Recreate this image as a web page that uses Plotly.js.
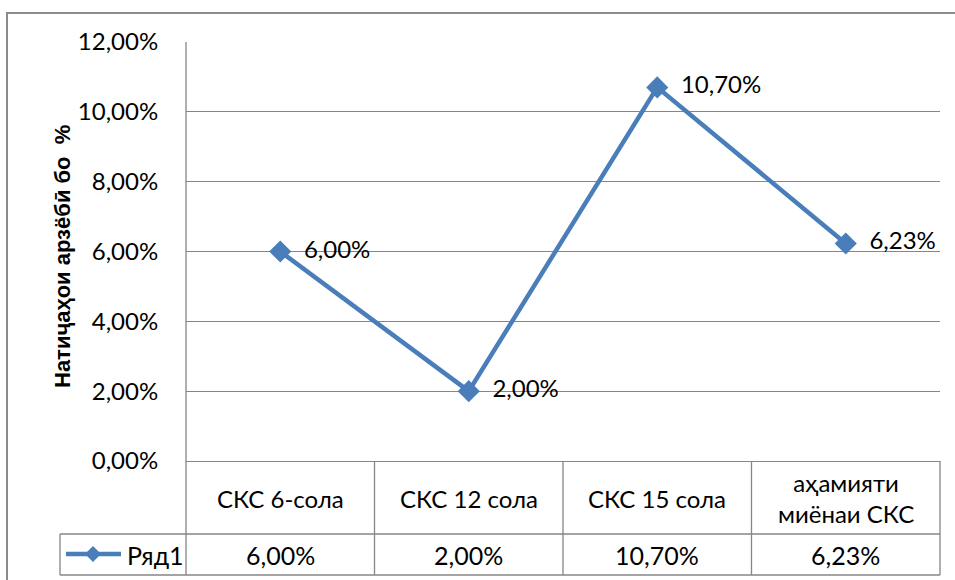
<!DOCTYPE html>
<html><head><meta charset="utf-8">
<script src="https://cdn.plot.ly/plotly-3.0.1.min.js"></script>
<style>html,body{margin:0;padding:0;background:#fff}#chart{width:955px;height:580px}</style>
</head><body><div id="chart"></div>
<script>
const categories = ["СКС 6-сола", "СКС 12 сола", "СКС 15 сола", "аҳамияти<br>миёнаи СКС"];
const values = [0.06, 0.02, 0.107, 0.0623];
const seriesName = "Ряд1";
const yTitle = "Натиҷаҳои арзёбӣ бо  %";

const W = 955, H = 580, L = 186, R = 940, T = 42, B = 461;
const px = x => (x - L) / (R - L);
const py = y => (B - y) / (B - T);
const FONT = "Lato, sans-serif";
const GRID = "#868686";
const BLUE = "#4A7EBB";

function fmt(v){ return (v*100).toFixed(2).replace('.', ',') + '%'; }

const xs = categories.map((c,i)=>i);
const trace = {
  x: xs, y: values, type: 'scatter', mode: 'lines+markers+text',
  line: {color: BLUE, width: 4.5},
  marker: {symbol: 'diamond', size: 17, color: BLUE},
  text: values.map(v => '\u2002' + fmt(v)), textposition: 'middle right',
  textfont: {family: FONT, size: 24, color: '#000'},
  cliponaxis: false, showlegend: false, hoverinfo: 'none'
};

const shapes = [];
const annotations = [];
const line = (x0,y0,x1,y1,xref='paper',w=1.3,c=GRID) => shapes.push({type:'line', xref, yref:'paper', x0,y0,x1,y1, line:{color:c,width:w}});
// outer chart border
shapes.push({type:'rect', xref:'paper', yref:'paper', x0:px(7), x1:px(1000), y0:py(640), y1:py(13), line:{color:'#8c8c8c', width:2}});
// y axis line down through table
line(0, py(575), 0, 1);
// right border of table
line(1, py(575), 1, 0);
// column dividers
for (let i=0;i<categories.length-1;i++) line(i+0.5, py(575), i+0.5, 0, 'x');
// row lines
line(px(60), py(534), 1, py(534));
line(px(60), py(575), 1, py(575));
line(px(60), py(534), px(60), py(575));
// legend key
line(px(66), py(554), px(121), py(554), 'paper', 4.5, BLUE);
shapes.push({type:'path', xref:'paper', yref:'paper', fillcolor: BLUE, line:{color:BLUE,width:0},
  path: `M ${px(93)} ${py(546)} L ${px(101)} ${py(554)} L ${px(93)} ${py(562)} L ${px(85)} ${py(554)} Z`});
annotations.push({xref:'paper', yref:'paper', x:px(125), y:py(555), xanchor:'left', yanchor:'middle', text: seriesName, showarrow:false, font:{family:FONT, size:25, color:'#000'}});

categories.forEach((c,i)=>{
  annotations.push({xref:'x', yref:'paper', x:i, y:py(498), text:c, showarrow:false, xanchor:'center', yanchor:'middle', font:{family:FONT, size:24, color:'#000'}});
  annotations.push({xref:'x', yref:'paper', x:i, y:py(555), text:fmt(values[i]), showarrow:false, xanchor:'center', yanchor:'middle', font:{family:FONT, size:25, color:'#000'}});
});
annotations.push({xref:'paper', yref:'paper', x:px(62), y:py(257), text:'<b>'+yTitle+'</b>', textangle:-90, showarrow:false, xanchor:'center', yanchor:'middle', font:{family:"'Liberation Sans', Arial, sans-serif", size:22, color:'#000'}});

const layout = {
  width: W, height: H, separators: ', ',
  margin: {l: L, r: W - R, t: T, b: H - B},
  paper_bgcolor: '#fff', plot_bgcolor: '#fff',
  xaxis: {range: [-0.5, categories.length - 0.5], showticklabels: false, showgrid: false, zeroline: false, showline: true, linecolor: GRID, linewidth: 1.3, fixedrange: true},
  yaxis: {range: [0, 0.12], dtick: 0.02, tickformat: '.2%', showgrid: true, gridcolor: GRID, gridwidth: 1.3, zeroline: false, showline: false,
    ticks: 'outside', ticklen: 0, ticklabelstandoff: 22, tickfont: {family: FONT, size: 24, color: '#000'}, fixedrange: true},
  shapes, annotations, showlegend: false
};
Plotly.newPlot('chart', [trace], layout, {displayModeBar: false, staticPlot: true});
</script></body></html>
